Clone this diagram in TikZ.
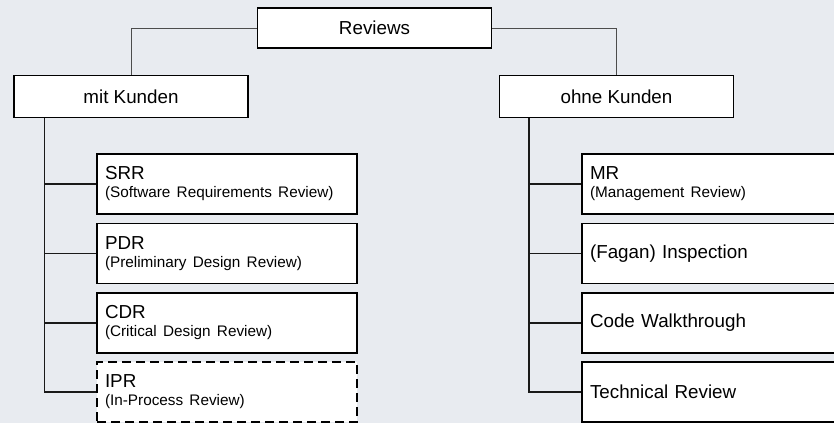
\documentclass[tikz,border=0pt]{standalone}
\usepackage{fontspec}
\setmainfont{Liberation Sans}
\usetikzlibrary{positioning}
\definecolor{bgblue}{RGB}{232,235,240}
\newcommand{\subtxt}{\fontsize{7.65}{9}\selectfont}
\tikzset{
  headbox/.style={rectangle,draw=black,line width=0.6pt,fill=white,minimum width=117pt,minimum height=21pt,font=\fontsize{9.4}{9}\selectfont},
  leafbox/.style={rectangle,draw=black,line width=0.6pt,fill=white,minimum width=130pt,minimum height=30pt,text width=122pt,inner xsep=4pt,inner ysep=1pt,align=left,font=\fontsize{9.4}{9}\selectfont},
  conn/.style={draw=black!70,line width=0.5pt},
  trunk/.style={draw=black!90,line width=0.7pt}
}
\begin{document}
\begin{tikzpicture}[x=0.5pt,y=-0.5pt]
\clip (0,0) rectangle (834,423);
\fill[bgblue] (0,0) rectangle (834,423);
% top level
\node[headbox,minimum height=20pt] (reviews) at (374.5,28) {Reviews};
\node[headbox] (mitk) at (131,96.5) {mit Kunden};
\node[headbox] (ohnek) at (616.5,96.5) {ohne Kunden};
\draw[conn] (reviews.west) -| (mitk.north);
\draw[conn] (reviews.east) -| (ohnek.north);
% mit Kunden
\node[leafbox] (srr) at (227,184) {SRR\\{\subtxt (Software Requirements Review)}};
\node[leafbox] (pdr) at (227,253.5) {PDR\\{\subtxt (Preliminary Design Review)}};
\node[leafbox] (cdr) at (227,323) {CDR\\{\subtxt (Critical Design Review)}};
\node[leafbox,dashed,line width=1.3pt,dash pattern=on 4.5pt off 2.5pt] (ipr) at (227,392) {IPR\\{\subtxt (In-Process Review)}};
\coordinate (ltrunk) at ([xshift=15.5pt]mitk.south west);
\foreach \n in {srr,pdr,cdr,ipr} {
    \draw[trunk] (ltrunk) |- (\n.west);
}
% ohne Kunden
\node[leafbox] (mr) at (712,184) {MR\\{\subtxt (Management Review)}};
\node[leafbox] (fagan) at (712,253.5) {(Fagan) Inspection};
\node[leafbox] (walk) at (712,323) {Code Walkthrough};
\node[leafbox] (tech) at (712,392) {Technical Review};
\coordinate (rtrunk) at ([xshift=15pt]ohnek.south west);
\foreach \n in {mr,fagan,walk,tech} {
    \draw[trunk] (rtrunk) |- (\n.west);
}
\end{tikzpicture}
\end{document}
